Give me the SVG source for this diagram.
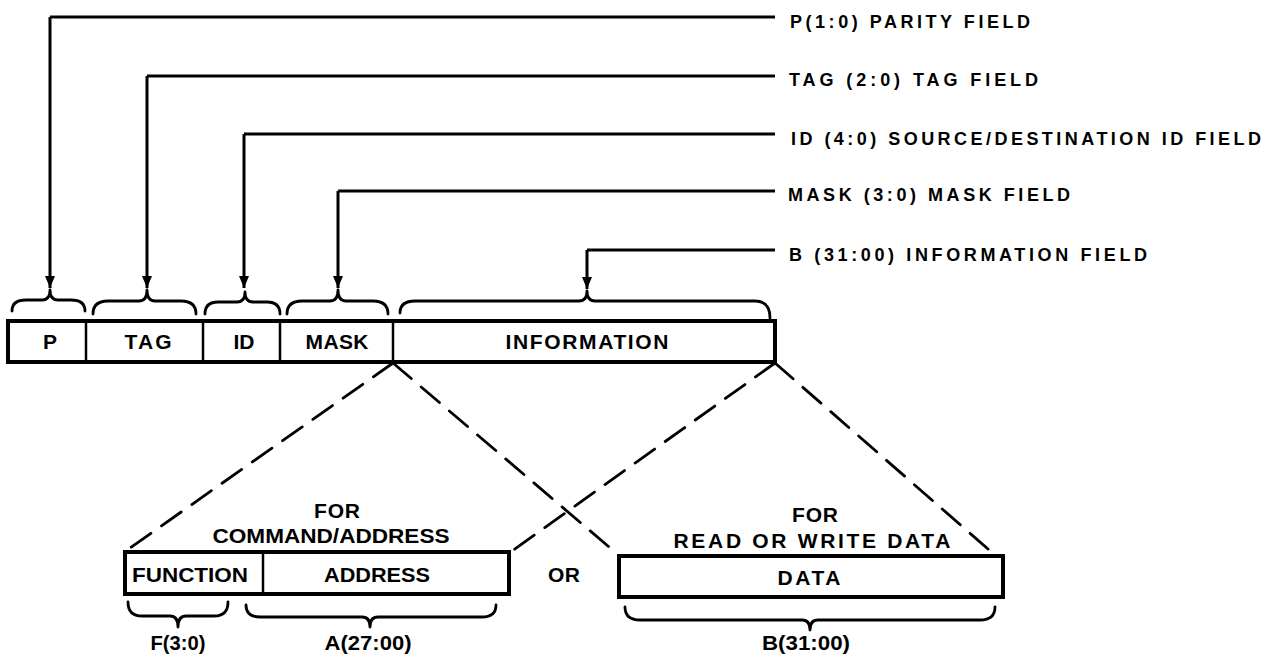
<svg xmlns="http://www.w3.org/2000/svg" width="1284" height="654" viewBox="0 0 1284 654">
<style>
  .t { font-family: "Liberation Sans", Arial, sans-serif; font-weight: bold; fill: #000; }
  .lead { font-size: 18px; }
  .box { font-size: 21px; }
  .lbl { font-size: 20px; }
  .frame { fill: #fff; stroke: #000; stroke-width: 4; }
  .div { stroke: #000; stroke-width: 2.5; }
  .brace { fill: none; stroke: #000; stroke-width: 2.8; stroke-linejoin: round; stroke-linecap: round; }
  .leader { fill: none; stroke: #000; stroke-width: 3; }
  .dash { stroke: #000; stroke-width: 2.8; stroke-dasharray: 24 13; stroke-linecap: round; }
</style>
<defs>
  <marker id="arr" markerUnits="userSpaceOnUse" markerWidth="12" markerHeight="14" refX="12" refY="5" orient="auto" viewBox="0 0 12 10">
    <path d="M0,0 L12,5 L0,10 z" fill="#000"/>
  </marker>
</defs>

<g id="connectors">
  <path class="leader" d="M50,17 H775" />
  <path class="leader" d="M50,17 V288" marker-end="url(#arr)"/>
  <path class="leader" d="M147,76 H775" />
  <path class="leader" d="M147,76 V288" marker-end="url(#arr)"/>
  <path class="leader" d="M244,134 H775" />
  <path class="leader" d="M244,134 V288" marker-end="url(#arr)"/>
  <path class="leader" d="M338,191 H775" />
  <path class="leader" d="M338,191 V288" marker-end="url(#arr)"/>
  <path class="leader" d="M587,250 H775" />
  <path class="leader" d="M587,250 V289" marker-end="url(#arr)"/>
  <line class="dash" x1="393" y1="363" x2="130" y2="548"/>
  <line class="dash" x1="393" y1="363" x2="615" y2="552"/>
  <line class="dash" x1="775" y1="363" x2="512" y2="551"/>
  <line class="dash" x1="775" y1="363" x2="988" y2="549"/>
</g>

<g id="leader-labels">
  <text class="t lead" x="790" y="28" textLength="240" lengthAdjust="spacing">P(1:0) PARITY FIELD</text>
  <text class="t lead" x="789" y="86" textLength="249" lengthAdjust="spacing">TAG (2:0) TAG FIELD</text>
  <text class="t lead" x="791" y="145" textLength="470" lengthAdjust="spacing">ID (4:0) SOURCE/DESTINATION ID FIELD</text>
  <text class="t lead" x="788" y="201" textLength="282" lengthAdjust="spacing">MASK (3:0) MASK FIELD</text>
  <text class="t lead" x="789" y="261" textLength="358" lengthAdjust="spacing">B (31:00) INFORMATION FIELD</text>
</g>

<g id="top-braces">
  <path class="brace" d="M12,311 Q12,300 26,300 L42,300 Q50,300 50,290 Q50,300 58,300 L71,300 Q85,300 85,311"/>
  <path class="brace" d="M93,314 Q93,301 108,301 L139,301 Q147,301 147,290 Q147,301 155,301 L181,301 Q196,301 196,314"/>
  <path class="brace" d="M205,314 Q205,302 218,302 L237,302 Q245,302 245,292 Q245,302 253,302 L267,302 Q280,302 280,314"/>
  <path class="brace" d="M287,314 Q287,301 302,301 L330,301 Q338,301 338,290 Q338,301 346,301 L373,301 Q388,301 388,314"/>
  <path class="brace" d="M400,313 Q400,301 415,301 L579,301 Q587,301 587,291 Q587,301 595,301 L755,301 Q770,301 770,318"/>
</g>

<g id="word">
  <rect class="frame" x="8" y="321" width="767" height="41"/>
  <line class="div" x1="86" y1="321" x2="86" y2="362"/>
  <line class="div" x1="203" y1="321" x2="203" y2="362"/>
  <line class="div" x1="280" y1="321" x2="280" y2="362"/>
  <line class="div" x1="393" y1="321" x2="393" y2="362"/>
  <g id="field-p"><text class="t box" x="50" y="349" text-anchor="middle">P</text></g>
  <g id="field-tag"><text class="t box" x="148" y="349" text-anchor="middle" textLength="47">TAG</text></g>
  <g id="field-id"><text class="t box" x="244" y="349" text-anchor="middle">ID</text></g>
  <g id="field-mask"><text class="t box" x="337" y="349" text-anchor="middle" textLength="63">MASK</text></g>
  <g id="field-info"><text class="t box" x="587" y="349" text-anchor="middle" textLength="163">INFORMATION</text></g>
</g>

<g id="command-address">
  <text class="t box" x="337" y="518" text-anchor="middle" textLength="46">FOR</text>
  <text class="t box" x="331" y="543" text-anchor="middle" textLength="237" lengthAdjust="spacingAndGlyphs">COMMAND/ADDRESS</text>
  <rect class="frame" x="125" y="552" width="384" height="42"/>
  <line class="div" x1="263" y1="552" x2="263" y2="594"/>
  <text class="t box" x="132" y="582" textLength="116" lengthAdjust="spacingAndGlyphs">FUNCTION</text>
  <text class="t box" x="377" y="582" text-anchor="middle" textLength="106" lengthAdjust="spacingAndGlyphs">ADDRESS</text>
  <path class="brace" d="M128,602 Q128,616 142,616 L170,616 Q178,616 178,627 Q178,616 186,616 L214,616 Q228,616 228,602"/>
  <path class="brace" d="M246,605 Q246,617 260,617 L362,617 Q370,617 370,627 Q370,617 378,617 L482,617 Q496,617 496,605"/>
  <text class="t lbl" x="178" y="650" text-anchor="middle" textLength="55" lengthAdjust="spacingAndGlyphs">F(3:0)</text>
  <text class="t lbl" x="368" y="650" text-anchor="middle" textLength="87" lengthAdjust="spacingAndGlyphs">A(27:00)</text>
</g>

<g id="or-label">
  <text class="t box" x="564" y="582" text-anchor="middle" textLength="32">OR</text>
</g>

<g id="data">
  <text class="t box" x="815" y="522" text-anchor="middle" textLength="46">FOR</text>
  <text class="t box" x="812" y="548" text-anchor="middle" textLength="277" lengthAdjust="spacing">READ OR WRITE DATA</text>
  <rect class="frame" x="619" y="556" width="384" height="41"/>
  <text class="t box" x="809" y="585" text-anchor="middle" textLength="63">DATA</text>
  <path class="brace" d="M625,607 Q625,620 640,620 L802,620 Q810,620 810,630 Q810,620 818,620 L980,620 Q995,620 995,607"/>
  <text class="t lbl" x="806" y="650" text-anchor="middle" textLength="88" lengthAdjust="spacingAndGlyphs">B(31:00)</text>
</g>
</svg>
